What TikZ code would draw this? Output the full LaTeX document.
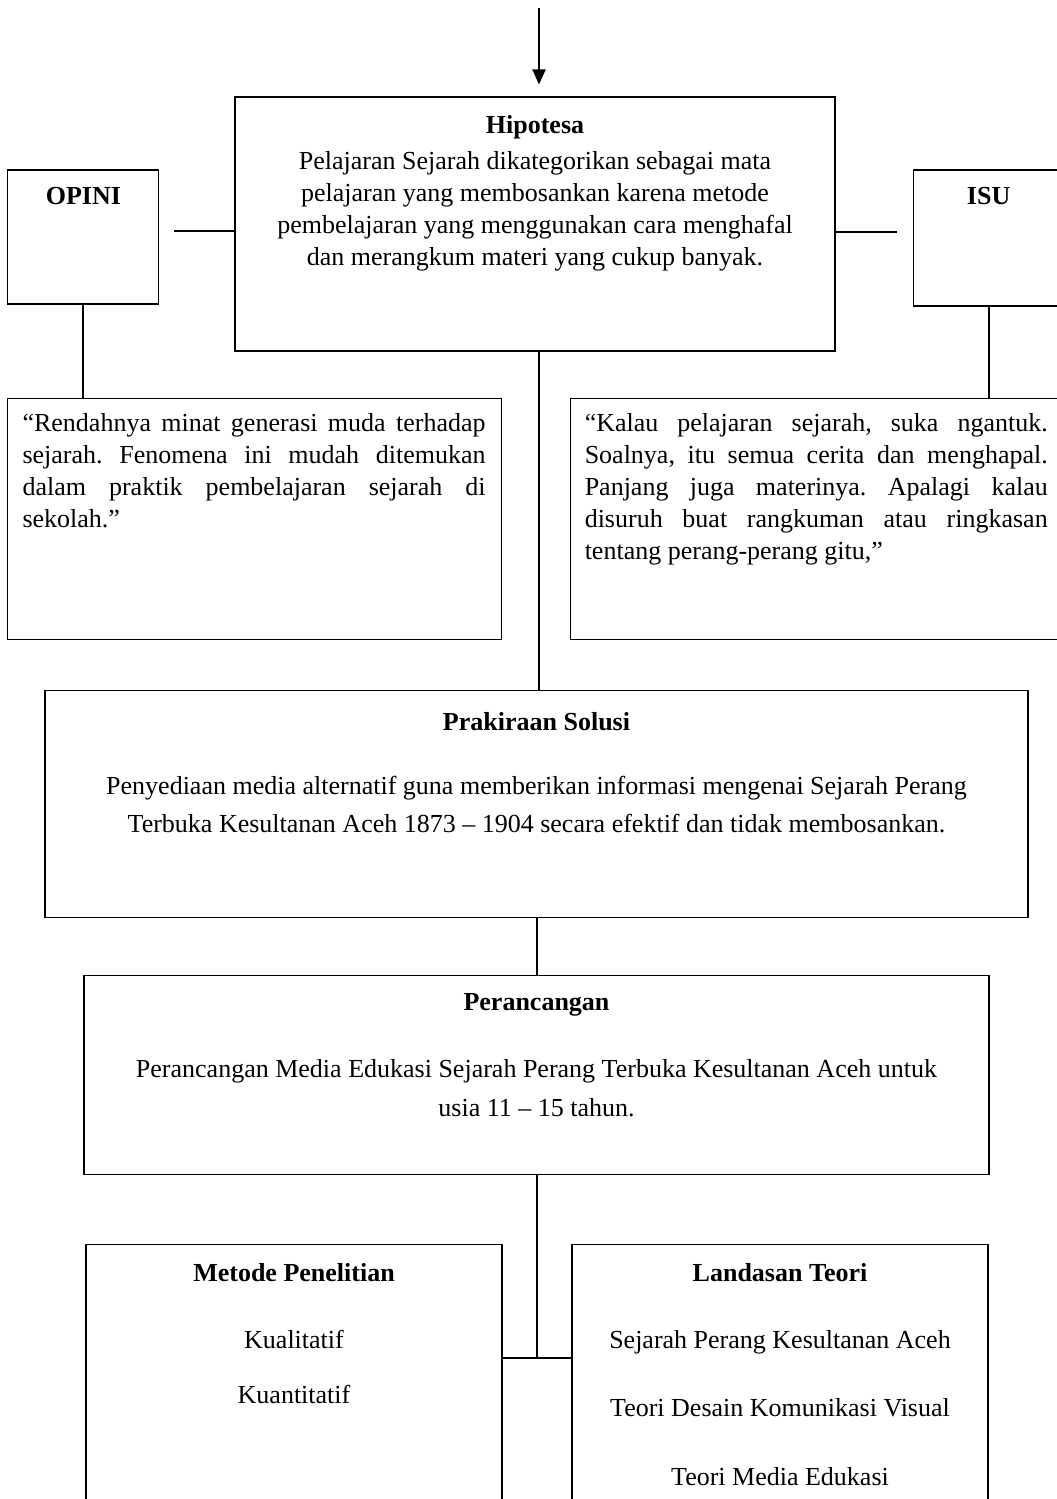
\documentclass[tikz,border=0pt]{standalone}
\usepackage{fontspec}
\setmainfont{Liberation Serif}
\usetikzlibrary{arrows.meta, positioning}
\frenchspacing
\newcommand\nohyph{\hyphenpenalty=10000\relax\exhyphenpenalty=10000\relax}
\tikzset{
    box/.style={rectangle, draw=black, line width=1.1pt, inner sep=0pt},
    title/.style={font=\fontsize{26}{32}\selectfont\bfseries, inner sep=0pt},
    body/.style={font=\fontsize{26}{#1}\selectfont, inner sep=0pt, align=center},
    body/.default=32,
    quote/.style={font=\fontsize{26}{32}\selectfont, inner sep=0pt, text width=463pt, align=justify},
    link/.style={line width=2pt},
    arrow/.style={line width=2pt, -{Triangle[width=13pt,length=15pt]}}
}
\begin{document}
\begin{tikzpicture}[x=1pt, y=1pt]
    \clip (0,0) rectangle (1057,-1499);
    % Boxes
    \node (hyp) [box, minimum width=600pt, minimum height=254pt] at (535,-224) {};
    \node (opini) [box, minimum width=151pt, minimum height=134pt, left=75pt of hyp, yshift=-13pt] {};
    \node (isu) [box, minimum width=151pt, minimum height=136pt, right=77pt of hyp, yshift=-14pt] {};
    \node (qleft) [box, minimum width=494pt, minimum height=241pt, below=93pt of opini.south west, anchor=north west] {};
    \node (qright) [box, minimum width=494pt, minimum height=241pt, below=91pt of isu.south east, anchor=north east] {};
    \node (solusi) [box, minimum width=983pt, minimum height=227pt, below=338pt of hyp, xshift=1.5pt] {};
    \node (rancang) [box, minimum width=905pt, minimum height=199pt, below=57pt of solusi] {};
    \node (metode) [box, minimum width=416pt, minimum height=300pt, below=69pt of rancang.south west, anchor=north west, xshift=2pt] {};
    \node (landasan) [box, minimum width=416pt, minimum height=300pt, below=69pt of rancang.south east, anchor=north east, xshift=-1pt] {};
    % Texts
    \node (hypTitle) [title, below=19pt of hyp.north] {Hipotesa};
    \node (hypText) [body, below=55pt of hyp.north] {Pelajaran Sejarah dikategorikan sebagai mata\\pelajaran yang membosankan karena metode\\pembelajaran yang menggunakan cara menghafal\\dan merangkum materi yang cukup banyak.};
    \node (opiniTitle) [title, below=18pt of opini.north] {OPINI};
    \node (isuTitle) [title, below=18pt of isu.north] {ISU};
    \node (qleftText) [quote, below right=16pt and 15pt of qleft.north west] {\nohyph “Rendahnya minat generasi muda terhadap\linebreak sejarah. Fenomena ini mudah ditemukan\linebreak dalam praktik pembelajaran sejarah di\linebreak sekolah.”};
    \node (qrightText) [quote, below right=16pt and 15pt of qright.north west] {\nohyph “Kalau pelajaran sejarah, suka ngantuk.\linebreak Soalnya, itu semua cerita dan menghapal.\linebreak Panjang juga materinya. Apalagi kalau\linebreak disuruh buat rangkuman atau ringkasan\linebreak tentang perang-perang gitu,”};
    \node (solusiTitle) [title, below=23pt of solusi.north] {Prakiraan Solusi};
    \node (solusiText) [body=38, below=86pt of solusi.north] {Penyediaan media alternatif guna memberikan informasi mengenai Sejarah Perang\\Terbuka Kesultanan Aceh 1873 – 1904 secara efektif dan tidak membosankan.};
    \node (rancangTitle) [title, below=19pt of rancang.north] {Perancangan};
    \node (rancangText) [body=39, below=85pt of rancang.north] {Perancangan Media Edukasi Sejarah Perang Terbuka Kesultanan Aceh untuk\\usia 11 – 15 tahun.};
    \node (metodeTitle) [title, below=19pt of metode.north] {Metode Penelitian};
    \node (metodeText) [body=55, below=86pt of metode.north] {Kualitatif\\Kuantitatif};
    \node (landasanTitle) [title, below=19pt of landasan.north] {Landasan Teori};
    \node (landasanText) [body=68.5, below=86pt of landasan.north] {Sejarah Perang Kesultanan Aceh\\Teori Desain Komunikasi Visual\\Teori Media Edukasi};
    % Connectors
    \coordinate (start) at (539,-8);
    \draw [arrow, shorten >=12pt] (start) -- (start |- hyp.north);
    \draw [link] (hyp.west) ++(0,-7) -- ++(-60,0);
    \draw [link] (hyp.east) ++(0,-8) -- ++(61,0);
    \draw [link] (opini.south) -- (opini.south |- qleft.north);
    \draw [link] (isu.south) -- (isu.south |- qright.north);
    \draw [link] (hyp.south -| start) -- (solusi.north -| start);
    \draw [link] (solusi) -- (rancang);
    \draw [link] (rancang.south) -- ++(0,-183) coordinate (junction);
    \draw [link] (metode.east |- junction) -- (landasan.west |- junction);
\end{tikzpicture}
\end{document}
